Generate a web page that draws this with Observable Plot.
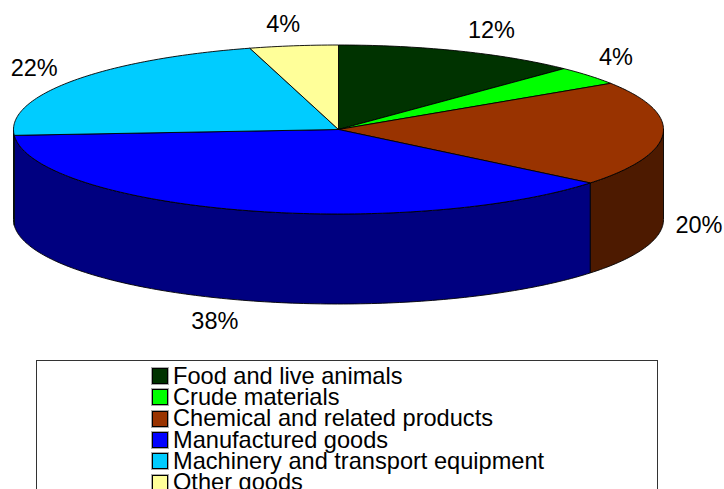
<!DOCTYPE html>
<html>
<head>
<meta charset="utf-8">
<script src="https://cdn.jsdelivr.net/npm/d3@7"></script>
<script src="https://cdn.jsdelivr.net/npm/@observablehq/plot@0.6"></script>
<style>
html,body{margin:0;padding:0;background:#fff;overflow:hidden;width:724px;height:489px}
#chart{height:352px;font-size:0}
#legend{position:relative;box-sizing:border-box;margin:7.5px 0 0 36px;width:622px;height:200px;border:1px solid #333;font-family:"Liberation Sans",Arial,sans-serif;font-size:23.6px;line-height:21px;color:#000;padding:5px 0 0 115px}
.row{height:21.3px;white-space:nowrap;display:flex;align-items:center}
.key{display:inline-block;box-sizing:border-box;width:16px;height:16px;border:1px solid #000;outline:1px solid #aaa;margin-right:5px;flex:none}
</style>
</head>
<body>
<div id="chart"></div>
<div id="legend"></div>
<script>
const categories = ["Food and live animals","Crude materials","Chemical and related products","Manufactured goods","Machinery and transport equipment","Other goods"];
const shares = [12.2,3.6,20.1,38.0,21.7,4.4];
const topColors = ["#003300","#00ff00","#993300","#0000ff","#00ccff","#ffff99"];
const wallColors = ["#001a00","#008000","#4d1a00","#000080","#006680","#808050"];
const labelTexts = ["12%","4%","20%","38%","22%","4%"];
const labelReachX = [409,360,361,408,372,401];
const labelReachY = [107,113,106,107,106,106];

const W = 724, H = 352;
const cx = 338, cy = 129, rx = 325, ry = 84.5, depth = 90;
const rad = d => d * Math.PI / 180;
const total = d3.sum(shares);
let acc = 0;
const slices = shares.map((v,i) => {
  const a0 = acc / total * 360; acc += v;
  return {i, a0, a1: acc / total * 360, mid: (a0 + acc / total * 360) / 2};
});
const pt = (a, off = 0) => [cx + rx * Math.sin(rad(a)), cy - ry * Math.cos(rad(a)) + off];
const arc = (a0, a1, off = 0) => {
  const out = [], n = Math.max(2, Math.ceil(a1 - a0));
  for (let k = 0; k <= n; k++) out.push(pt(a0 + (a1 - a0) * k / n, off));
  return out;
};

const tops = slices.flatMap(s => [[cx, cy], ...arc(s.a0, s.a1), [cx, cy]].map(([x,y]) => ({x, y, i: s.i})));
const walls = slices.flatMap(s => {
  const a0 = Math.max(s.a0, 90), a1 = Math.min(s.a1, 270);
  if (a1 <= a0) return [];
  return [...arc(a0, a1), ...arc(a0, a1, depth).reverse(), pt(a0)].map(([x,y]) => ({x, y, i: s.i}));
});
const labels = slices.map(s => {
  const c = Math.cos(rad(s.mid));
  return {
    text: labelTexts[s.i],
    x: cx + labelReachX[s.i] * Math.sin(rad(s.mid)),
    y: cy - labelReachY[s.i] * c + (c < 0 ? depth : 0)
  };
});

const lineOpts = {x: "x", y: "y", z: "i", stroke: "#000", strokeWidth: 0.9, curve: "linear"};
const plot = Plot.plot({
  width: W, height: H, margin: 0,
  x: {domain: [0, W], range: [0, W], axis: null},
  y: {domain: [0, H], range: [0, H], axis: null},
  style: {background: "#fff"},
  marks: [
    Plot.line(walls, {...lineOpts, fill: d => wallColors[d.i]}),
    Plot.line(tops, {...lineOpts, fill: d => topColors[d.i]}),
    Plot.text(labels, {x: "x", y: "y", text: "text", fontSize: 23.5, fontFamily: "Liberation Sans, Arial, sans-serif", fill: "#000"})
  ]
});
document.getElementById("chart").append(plot);

const legend = document.getElementById("legend");
categories.forEach((c,i) => {
  const row = document.createElement("div"); row.className = "row";
  const k = document.createElement("span"); k.className = "key"; k.style.background = topColors[i];
  const t = document.createElement("span"); t.textContent = c;
  row.append(k,t); legend.append(row);
});
</script>
</body>
</html>
